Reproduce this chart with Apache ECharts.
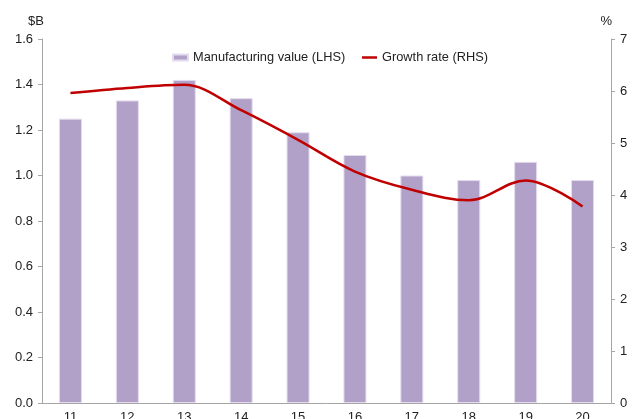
<!DOCTYPE html>
<html>
<head>
<meta charset="utf-8">
<script src="https://cdn.jsdelivr.net/npm/echarts@6/dist/echarts.min.js"></script>
<style>
html, body { margin: 0; padding: 0; background: #fff; }
#chart { width: 633px; height: 419px; }
</style>
</head>
<body>
<div id="chart"></div>
<script>
var years = ['11', '12', '13', '14', '15', '16', '17', '18', '19', '20'];
var manufacturing = [1.25, 1.33, 1.42, 1.34, 1.19, 1.09, 1.00, 0.98, 1.06, 0.98];
var growth = [5.96, 6.06, 6.12, 5.63, 5.06, 4.45, 4.10, 3.90, 4.28, 3.78];

var axisGrey = '#a6a6a6';
var font = 'Liberation Sans, Arial, sans-serif';
var legendText = { fontSize: 12.8, color: '#222', fontFamily: font };

var chart = echarts.init(document.getElementById('chart'));
chart.setOption({
    animation: false,
    textStyle: { fontFamily: font },
    grid: { left: 42, right: 22, top: 39, bottom: 16, containLabel: false, outerBoundsMode: 'none' },
    // two legends so the line icon can be thin
    legend: [
        {
            left: 167,
            top: 46,
            itemWidth: 15,
            itemHeight: 6,
            textStyle: legendText,
            data: [{ name: 'Manufacturing value (LHS)', icon: 'rect' }]
        },
        {
            left: 357,
            top: 46,
            itemWidth: 15,
            itemHeight: 2.5,
            textStyle: legendText,
            data: [{ name: 'Growth rate (RHS)', icon: 'rect' }]
        }
    ],
    xAxis: {
        type: 'category',
        data: years,
        axisLine: { lineStyle: { color: axisGrey } },
        axisTick: { lineStyle: { color: axisGrey }, length: 5 },
        axisLabel: { color: '#222', fontSize: 13, margin: 8 }
    },
    yAxis: [
        {
            type: 'value',
            min: 0, max: 1.6, interval: 0.2,
            name: '$B',
            nameGap: 11,
            nameTextStyle: { color: '#222', fontSize: 13, align: 'right', padding: [0, -2, 0, 0] },
            axisLine: { show: true, lineStyle: { color: axisGrey } },
            axisTick: { show: true, lineStyle: { color: axisGrey }, length: 4 },
            axisLabel: { color: '#222', fontSize: 13, margin: 9, formatter: function (v) { return v.toFixed(1); } },
            splitLine: { show: false }
        },
        {
            type: 'value',
            min: 0, max: 7, interval: 1,
            name: '%',
            nameGap: 11,
            nameTextStyle: { color: '#222', fontSize: 13, align: 'right', padding: [0, -1, 0, 0] },
            axisLine: { show: true, lineStyle: { color: axisGrey } },
            axisTick: { show: true, lineStyle: { color: axisGrey }, length: 4 },
            axisLabel: { color: '#222', fontSize: 13, margin: 9 },
            splitLine: { show: false }
        }
    ],
    series: [
        {
            name: 'Manufacturing value (LHS)',
            type: 'bar',
            data: manufacturing,
            barWidth: 23,
            itemStyle: { color: '#b1a0c7', borderColor: '#e4dcee', borderWidth: 1 }
        },
        {
            name: 'Growth rate (RHS)',
            type: 'line',
            yAxisIndex: 1,
            data: growth,
            smooth: 0.35,
            symbol: 'none',
            lineStyle: { color: '#c00000', width: 2.5 },
            itemStyle: { color: '#c00000' }
        }
    ]
});
</script>
</body>
</html>
